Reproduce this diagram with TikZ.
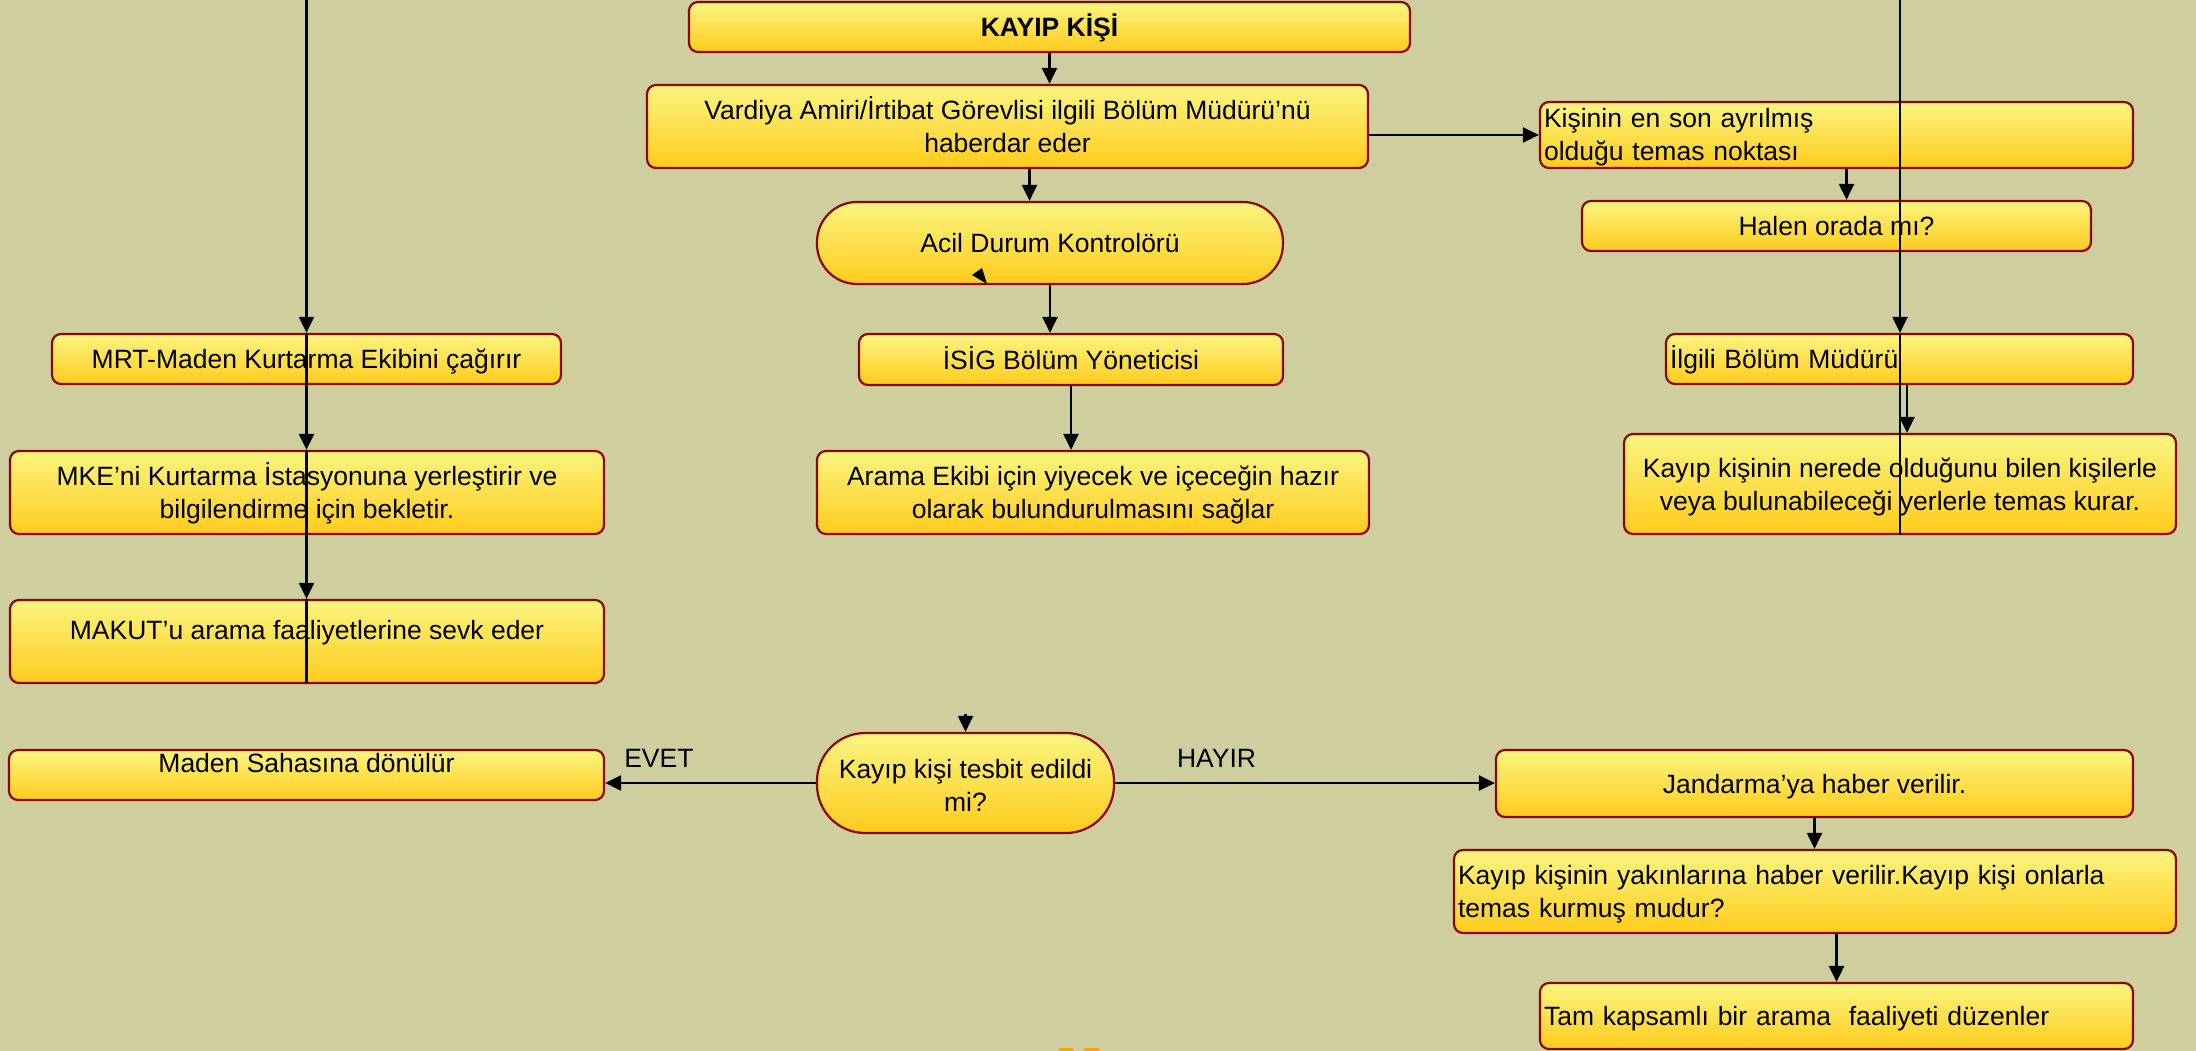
\documentclass[tikz,border=0pt]{standalone}
\usepackage{fontspec}
\setmainfont{Liberation Sans}
\usetikzlibrary{arrows.meta,calc}
\definecolor{bg}{RGB}{207,206,159}
\definecolor{boxtop}{RGB}{250,245,128}
\definecolor{boxbot}{RGB}{255,203,28}
\definecolor{boxline}{RGB}{140,8,8}
\definecolor{orng}{RGB}{245,165,10}
\begin{document}
\begin{tikzpicture}[x=1pt,y=-1pt,
  every node/.style={font=\fontsize{26.5}{33}\selectfont, text=black},
  box/.style={draw=boxline, line width=2.2pt, top color=boxtop, bottom color=boxbot,
              rounded corners=9pt, inner sep=0pt, align=center},
  sz/.style 2 args={minimum width=#1pt, minimum height=#2pt},
  l1/.style={text height=19pt, text depth=0pt},
  l2/.style={text height=19pt, text depth=33pt},
  l2c/.style={text height=52pt, text depth=0pt},
  lft/.style={align=left, inner xsep=4pt, text width=#1pt},
  ln/.style={line width=2.7pt, draw=black},
  thin/.style={line width=2.2pt},
  arr/.style={ln, -{Triangle[width=15pt,length=16pt]}},
  lbl/.style={anchor=south, inner sep=0pt, yshift=14pt, text height=19pt, text depth=0pt}]
\useasboundingbox (0,0) rectangle (2196,1051);
\fill[bg] (0,0) rectangle (2196,1051);

% centre column
\node[box, sz={721}{50}, l1, font=\bfseries\fontsize{26.5}{33}\selectfont] (kayip) at (1049.5,27) {KAYIP KİŞİ};
\node[box, sz={721}{83}, l2c] (vard) at (1007.5,126.5) {Vardiya Amiri/İrtibat Görevlisi ilgili Bölüm Müdürü’nü\\haberdar eder};
\node[box, sz={466}{82}, l1, rounded corners=40pt] (acil) at (1050,243) {Acil Durum Kontrolörü};
\node[box, sz={424}{51}, l1] (isig) at (1071,359.5) {İSİG Bölüm Yöneticisi};
\node[box, sz={552}{83}, l2c] (arama) at (1093,492.5) {Arama Ekibi için yiyecek ve içeceğin hazır\\olarak bulundurulmasını sağlar};
\node[box, sz={297}{100}, text height=56pt, text depth=0pt, rounded corners=48pt] (dec) at (965.5,783) {Kayıp kişi tesbit edildi\\mi?};

% left column
\node[box, sz={509}{50}, l1] (mrt) at (306.5,359) {MRT-Maden Kurtarma Ekibini çağırır};
\node[box, sz={594}{83}, l2c] (mke) at (307,492.5) {MKE’ni Kurtarma İstasyonuna yerleştirir ve\\bilgilendirme için bekletir.};
\node[box, sz={594}{83}, text height=0pt, text depth=5pt] (makut) at (307,641.5) {MAKUT’u arama faaliyetlerine sevk eder};
\node[box, sz={595}{50}, text height=0pt, text depth=6pt] (maden) at (306.5,775) {Maden Sahasına dönülür};

% right column
\node[box, sz={593}{66}, l2, lft=585] (kisi) at (1836.5,135) {Kişinin en son ayrılmış\\olduğu temas noktası};
\node[box, sz={509}{50}, l1] (halen) at (1836.5,226) {Halen orada mı?};
\node[box, sz={467}{50}, l1, lft=459] (ilgili) at (1899.5,359) {İlgili Bölüm Müdürü};
\node[box, sz={552}{100}, l2c] (nerede) at (1900,484) {Kayıp kişinin nerede olduğunu bilen kişilerle\\veya bulunabileceği yerlerle temas kurar.};
\node[box, sz={637}{67}, l1] (jand) at (1814.5,783.5) {Jandarma’ya haber verilir.};
\node[box, sz={722}{83}, l2, lft=714] (yakin) at (1815,891.5) {Kayıp kişinin yakınlarına haber verilir.Kayıp kişi onlarla\\temas kurmuş mudur?};
\node[box, sz={593}{66}, l1, lft=585] (tam) at (1836.5,1016) {Tam kapsamlı bir arama~ faaliyeti düzenler};

% connector anchors
\coordinate (ltop) at (306.5,0);
\coordinate (rtop) at (1900,0);
\coordinate (dtop) at (965.5,714);
\coordinate (va) at ($(vard.south)+(22,0)$);
\coordinate (ve) at ($(vard.east)+(0,8.5)$);
\coordinate (ks) at ($(kisi.south)+(10,0)$);
\coordinate (is) at ($(ilgili.south)+(7.5,0)$);

\draw[arr] (kayip.south) -- (kayip.south |- vard.north);
\draw[arr] (va) -- (va |- acil.north);
\draw[arr] (acil.south) -- (acil.south |- isig.north);
\draw[arr] (isig.south) -- (isig.south |- arama.north);
\draw[arr] (ve) -- (ve -| kisi.west);
\draw[arr, thin] (ks) -- (ks |- halen.north);

\draw[arr] (ltop) -- (ltop |- mrt.north);
\draw[arr] (ltop |- mrt.north) -- (ltop |- mke.north);
\draw[arr] (ltop |- mke.north) -- (ltop |- makut.north);
\draw[ln]  (ltop |- makut.north) -- (ltop |- makut.south);

\draw[arr, thin] (rtop) -- (rtop |- ilgili.north);
\draw[ln, thin]  (rtop |- ilgili.north) -- (rtop |- nerede.south);
\draw[arr] (is) -- (is |- nerede.north);

\draw[arr] (dtop) -- (dec.north);
\draw[arr] (dec.west) -- node[lbl, pos=.745] (evet) {EVET} (dec.west -| maden.east);
\draw[arr] (dec.east) -- node[lbl, pos=.267] (hayir) {HAYIR} (dec.east -| jand.west);
\draw[arr, thin] (jand.south) -- (jand.south |- yakin.north);
\draw[arr] (tam.north |- yakin.south) -- (tam.north);

% stray arrowhead inside "Acil Durum Kontrolörü"
\fill[black] (972,275) -- (982,268) -- (987,284) -- cycle;
% small orange fragments at the bottom edge
\fill[orng] (1058,1051) -- (1060,1048) -- (1072,1048) -- (1074,1051) -- cycle;
\fill[orng] (1083,1051) -- (1085,1048) -- (1098,1048) -- (1100,1051) -- cycle;
\end{tikzpicture}
\end{document}
